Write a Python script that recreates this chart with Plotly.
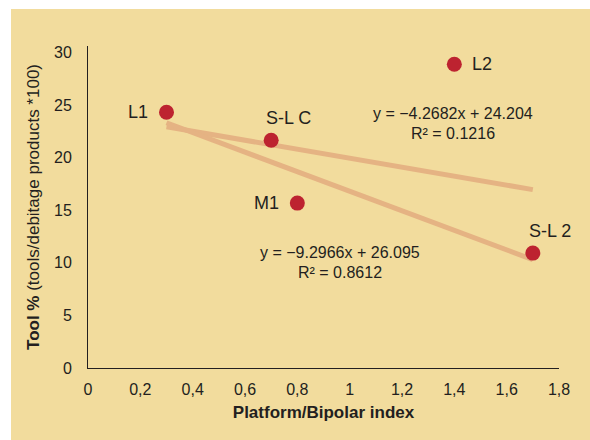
import plotly.graph_objects as go

# Data
labels = ["L1", "S-L C", "M1", "L2", "S-L 2"]
x_vals = [0.3, 0.7, 0.8, 1.4, 1.7]
y_vals = [24.3, 21.65, 15.67, 28.87, 10.92]

# Trendlines (coefficients as printed in the chart)
trend1 = {"slope": -4.2682, "intercept": 24.204, "r2": "0.1216"}
trend2 = {"slope": -9.2966, "intercept": 26.095, "r2": "0.8612"}
trend_x = [0.3, 1.7]

x_ticks = [0, 0.2, 0.4, 0.6, 0.8, 1, 1.2, 1.4, 1.6, 1.8]
x_ticktext = ["0", "0,2", "0,4", "0,6", "0,8", "1", "1,2", "1,4", "1,6", "1,8"]
y_ticks = [0, 5, 10, 15, 20, 25, 30]

TAN = "#F2DC9D"
LINE_COL = "#E5B383"
DOT_COL = "#BD2330"
TXT = "#231F20"
FONT = "Liberation Sans"

fig = go.Figure()

for tr in (trend1, trend2):
    fig.add_trace(go.Scatter(
        x=trend_x,
        y=[tr["slope"] * v + tr["intercept"] for v in trend_x],
        mode="lines", line=dict(color=LINE_COL, width=5),
        hoverinfo="skip", showlegend=False))

fig.add_trace(go.Scatter(
    x=x_vals, y=y_vals, mode="markers",
    marker=dict(color=DOT_COL, size=15),
    text=labels, showlegend=False))

# point labels (offsets in pixels)
offsets = {"L1": (-29, 0), "S-L C": (17, 22), "M1": (-31, 0), "L2": (28, 0), "S-L 2": (17, 22)}
for lab, xv, yv in zip(labels, x_vals, y_vals):
    dx, dy = offsets[lab]
    fig.add_annotation(x=xv, y=yv, text=lab, showarrow=False, xshift=dx, yshift=dy,
                       font=dict(family=FONT, size=18, color=TXT))

def eq_text(tr):
    return "y = \u2212%sx + %s" % (f"{abs(tr['slope']):.4f}", f"{tr['intercept']:.3f}")

EQ_SIZE = 16
fig.add_annotation(x=1.395, y=24.23, text=eq_text(trend1), showarrow=False,
                   font=dict(family=FONT, size=EQ_SIZE, color=TXT))
fig.add_annotation(x=1.395, y=22.33, text="R\u00b2 = " + trend1["r2"], showarrow=False,
                   font=dict(family=FONT, size=EQ_SIZE, color=TXT))
fig.add_annotation(x=0.963, y=11.02, text=eq_text(trend2), showarrow=False,
                   font=dict(family=FONT, size=EQ_SIZE, color=TXT))
fig.add_annotation(x=0.963, y=9.12, text="R\u00b2 = " + trend2["r2"], showarrow=False,
                   font=dict(family=FONT, size=EQ_SIZE, color=TXT))

# tan panel
L, R, T, B = 88, 31, 46, 72
W, H = 590, 440
pw, ph = W - L - R, H - T - B
fig.add_shape(type="rect", xref="paper", yref="paper",
              x0=(11 - L) / pw, x1=(W + 5 - L) / pw,
              y0=-(B + 5) / ph, y1=(H - B - 9) / ph,
              fillcolor=TAN, line=dict(width=0), layer="below")

fig.update_layout(
    width=W, height=H,
    margin=dict(l=L, r=R, t=T, b=B),
    paper_bgcolor="white", plot_bgcolor="rgba(0,0,0,0)",
    font=dict(family=FONT, color=TXT, size=16),
    xaxis=dict(range=[0, 1.8], tickvals=x_ticks, ticktext=x_ticktext,
               showgrid=False, zeroline=False, showline=True, linecolor=TXT, linewidth=1,
               ticks="", ticklabelstandoff=7,
               tickfont=dict(family=FONT, size=16, color=TXT),
               title=dict(text="<b>Platform/Bipolar index</b>", standoff=8,
                          font=dict(family=FONT, size=17, color=TXT))),
    yaxis=dict(range=[0, 30.6], tickvals=y_ticks,
               showgrid=False, zeroline=False, showline=True, linecolor=TXT, linewidth=1,
               ticks="", ticklabelstandoff=12,
               tickfont=dict(family=FONT, size=16, color=TXT),
               title=dict(text="<b>Tool %</b> (tools/debitage products *100)", standoff=10,
                          font=dict(family=FONT, size=17, color=TXT))),
)

fig.write_html("out.html")
